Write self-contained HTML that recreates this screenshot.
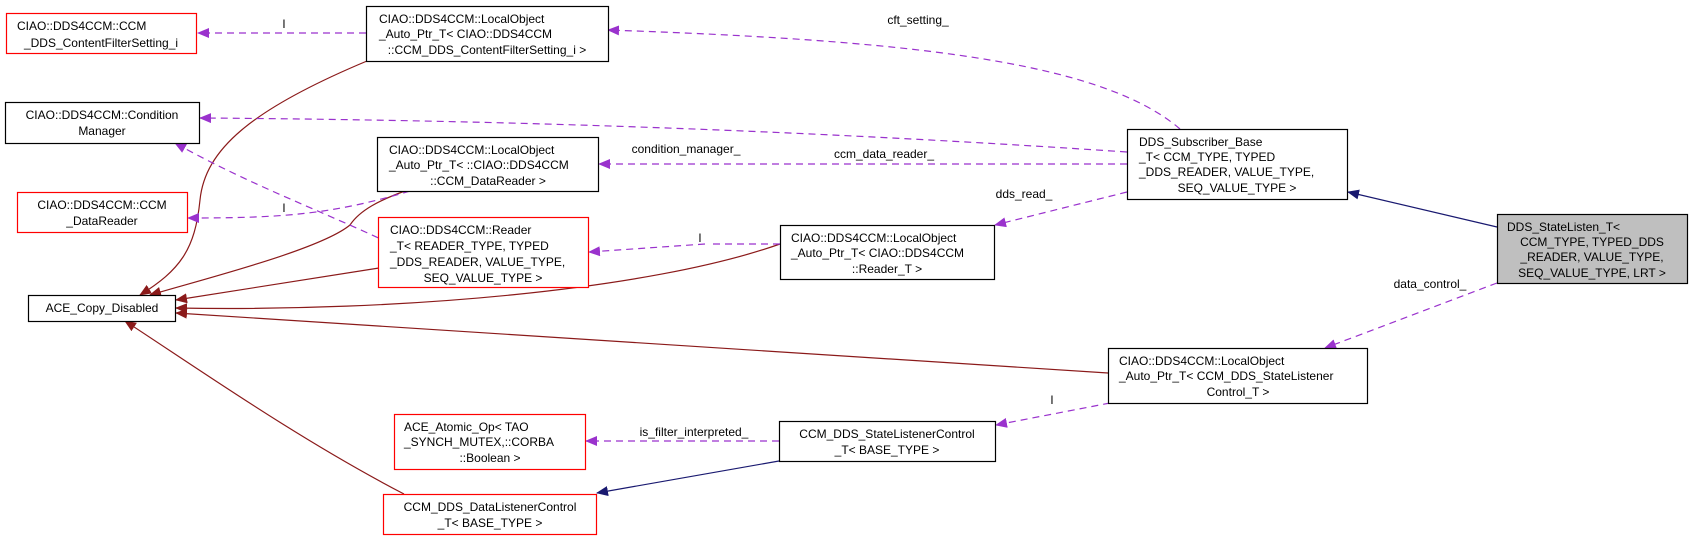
<!DOCTYPE html>
<html><head><meta charset="utf-8"><style>
html,body{margin:0;padding:0;background:#fff;}
svg{display:block;}
text{font-family:"Liberation Sans",sans-serif;font-size:12px;fill:#000;}
</style></head><body>
<svg width="1695" height="541" viewBox="0 0 1695 541" xmlns="http://www.w3.org/2000/svg">
<defs>
<marker id="ap" markerWidth="12" markerHeight="10" refX="11" refY="5" orient="auto" markerUnits="userSpaceOnUse"><path d="M0,0 L12,5 L0,10 z" fill="#9a32cd"/></marker>
<marker id="ar" markerWidth="12" markerHeight="10" refX="11" refY="5" orient="auto" markerUnits="userSpaceOnUse"><path d="M0,0 L12,5 L0,10 z" fill="#8b1a1a"/></marker>
<marker id="an" markerWidth="12" markerHeight="10" refX="11" refY="5" orient="auto" markerUnits="userSpaceOnUse"><path d="M0,0 L12,5 L0,10 z" fill="#191970"/></marker>
</defs>

<g fill="none" stroke="#8b1a1a" stroke-width="1.2">
<path d="M367,61 C250,110 205,150 200,200 C195,250 180,270 140,295" marker-end="url(#ar)"/>
<path d="M405,191 C380,200 360,210 350,225 C320,250 200,280 150,295" marker-end="url(#ar)"/>
<path d="M379,268 L176,300" marker-end="url(#ar)"/>
<path d="M780,244 C650,290 400,312 176,308" marker-end="url(#ar)"/>
<path d="M1108,373 L176,313" marker-end="url(#ar)"/>
<path d="M404,494 C300,440 200,370 125,321" marker-end="url(#ar)"/>
</g>

<g fill="none" stroke="#9a32cd" stroke-width="1.2" stroke-dasharray="7,5">
<path d="M366,33 L198,33" marker-end="url(#ap)"/>
<path d="M1180,129 C1100,60 900,40 608,30" marker-end="url(#ap)"/>
<path d="M1127,152 C800,130 500,120 200,118" marker-end="url(#ap)"/>
<path d="M1127,164 L599,164" marker-end="url(#ap)"/>
<path d="M1127,192 L995,225" marker-end="url(#ap)"/>
<path d="M1497,283 L1325,348" marker-end="url(#ap)"/>
<path d="M1110,403 L996,425" marker-end="url(#ap)"/>
<path d="M779,441 L586,441" marker-end="url(#ap)"/>
<path d="M410,191 C330,215 280,218 188,218" marker-end="url(#ap)"/>
<path d="M400,248 C320,210 250,185 175,143" marker-end="url(#ap)"/>
</g>

<g fill="none" stroke="#191970" stroke-width="1.2">
<path d="M1497,227 L1348,192" marker-end="url(#an)"/>
<path d="M779,461 L597,493" marker-end="url(#an)"/>
</g>

<g text-anchor="middle">
<text x="284" y="28">l</text>
<text x="918" y="24">cft_setting_</text>
<text x="686" y="153">condition_manager_</text>
<text x="884" y="158">ccm_data_reader_</text>
<text x="1024" y="198">dds_read_</text>
<text x="1430" y="288">data_control_</text>
<text x="1052" y="404">l</text>
<text x="694" y="436">is_filter_interpreted_</text>
<text x="284" y="212">l</text>
<text x="700" y="242">l</text>
</g>
<path d="M780,244 L710,244" stroke="#9a32cd" stroke-width="1.2" stroke-dasharray="7,5" fill="none"/>
<path d="M705,244 L589,252" stroke="#9a32cd" stroke-width="1.2" stroke-dasharray="7,5" fill="none" marker-end="url(#ap)"/>

<g stroke-width="1.2">
<rect x="6.5" y="13.5" width="190" height="40" fill="#fff" stroke="#ff0000"/>
<rect x="366.5" y="6.5" width="242" height="55" fill="#fff" stroke="#000"/>
<rect x="5.5" y="102.5" width="194" height="41" fill="#fff" stroke="#000"/>
<rect x="377.5" y="137.5" width="221" height="54" fill="#fff" stroke="#000"/>
<rect x="17.5" y="192.5" width="170" height="40" fill="#fff" stroke="#ff0000"/>
<rect x="378.5" y="217.5" width="210" height="70" fill="#fff" stroke="#ff0000"/>
<rect x="28.5" y="295.5" width="147" height="26" fill="#fff" stroke="#000"/>
<rect x="1127.5" y="129.5" width="220" height="70" fill="#fff" stroke="#000"/>
<rect x="780.5" y="225.5" width="214" height="54" fill="#fff" stroke="#000"/>
<rect x="1497.5" y="214.5" width="190" height="69" fill="#bfbfbf" stroke="#000"/>
<rect x="1108.5" y="348.5" width="259" height="55" fill="#fff" stroke="#000"/>
<rect x="394.5" y="414.5" width="191" height="55" fill="#fff" stroke="#ff0000"/>
<rect x="779.5" y="421.5" width="216" height="40" fill="#fff" stroke="#000"/>
<rect x="383.5" y="494.5" width="213" height="40" fill="#fff" stroke="#ff0000"/>
</g>

<g>
<text x="17" y="30">CIAO::DDS4CCM::CCM</text>
<text x="101" y="47" text-anchor="middle">_DDS_ContentFilterSetting_i</text>

<text x="379" y="23">CIAO::DDS4CCM::LocalObject</text>
<text x="379" y="38">_Auto_Ptr_T&lt; CIAO::DDS4CCM</text>
<text x="487" y="54" text-anchor="middle">::CCM_DDS_ContentFilterSetting_i &gt;</text>

<text x="102" y="119" text-anchor="middle">CIAO::DDS4CCM::Condition</text>
<text x="102" y="135" text-anchor="middle">Manager</text>

<text x="389" y="154">CIAO::DDS4CCM::LocalObject</text>
<text x="389" y="169">_Auto_Ptr_T&lt; ::CIAO::DDS4CCM</text>
<text x="488" y="185" text-anchor="middle">::CCM_DataReader &gt;</text>

<text x="102" y="209" text-anchor="middle">CIAO::DDS4CCM::CCM</text>
<text x="102" y="225" text-anchor="middle">_DataReader</text>

<text x="390" y="234">CIAO::DDS4CCM::Reader</text>
<text x="390" y="250">_T&lt; READER_TYPE, TYPED</text>
<text x="390" y="266">_DDS_READER, VALUE_TYPE,</text>
<text x="483" y="282" text-anchor="middle">SEQ_VALUE_TYPE &gt;</text>

<text x="102" y="312" text-anchor="middle">ACE_Copy_Disabled</text>

<text x="1139" y="146">DDS_Subscriber_Base</text>
<text x="1139" y="161">_T&lt; CCM_TYPE, TYPED</text>
<text x="1139" y="176">_DDS_READER, VALUE_TYPE,</text>
<text x="1237" y="192" text-anchor="middle">SEQ_VALUE_TYPE &gt;</text>

<text x="791" y="242">CIAO::DDS4CCM::LocalObject</text>
<text x="791" y="257">_Auto_Ptr_T&lt; CIAO::DDS4CCM</text>
<text x="887" y="273" text-anchor="middle">::Reader_T &gt;</text>

<text x="1507" y="231">DDS_StateListen_T&lt;</text>
<text x="1592" y="246" text-anchor="middle">CCM_TYPE, TYPED_DDS</text>
<text x="1592" y="261" text-anchor="middle">_READER, VALUE_TYPE,</text>
<text x="1592" y="277" text-anchor="middle">SEQ_VALUE_TYPE, LRT &gt;</text>

<text x="1119" y="365">CIAO::DDS4CCM::LocalObject</text>
<text x="1119" y="380">_Auto_Ptr_T&lt; CCM_DDS_StateListener</text>
<text x="1238" y="396" text-anchor="middle">Control_T &gt;</text>

<text x="404" y="431">ACE_Atomic_Op&lt; TAO</text>
<text x="404" y="446">_SYNCH_MUTEX,::CORBA</text>
<text x="490" y="462" text-anchor="middle">::Boolean &gt;</text>

<text x="887" y="438" text-anchor="middle">CCM_DDS_StateListenerControl</text>
<text x="887" y="454" text-anchor="middle">_T&lt; BASE_TYPE &gt;</text>

<text x="490" y="511" text-anchor="middle">CCM_DDS_DataListenerControl</text>
<text x="490" y="527" text-anchor="middle">_T&lt; BASE_TYPE &gt;</text>
</g>
</svg>
</body></html>
